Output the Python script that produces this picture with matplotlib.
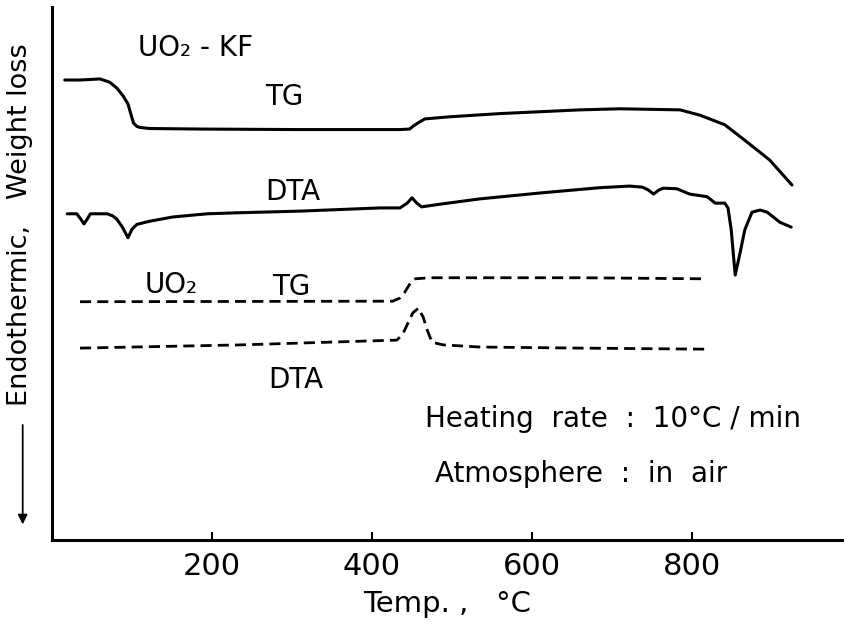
import matplotlib
matplotlib.use("Agg")
import matplotlib.pyplot as plt

plt.rcParams['font.family'] = ['DejaVu Sans']

# UO2-KF, TG (temperature in deg C, signal in arbitrary units)
kf_tg_t = [16, 35, 60, 72, 81, 89, 95, 99, 102, 106, 110, 122, 185, 310, 435, 447,
           452, 457, 466, 497, 560, 660, 710, 785, 810, 841, 866, 897, 925]
kf_tg_y = [86.3, 86.3, 86.5, 85.9, 84.8, 83.3, 81.8, 79.7, 78.2, 77.6, 77.4, 77.2,
           77.1, 77.0, 77.0, 77.1, 77.7, 78.2, 79.0, 79.4, 80.0, 80.7, 80.9, 80.7,
           79.7, 77.9, 75.0, 71.3, 66.6]

# UO2-KF, DTA
kf_dta_t = [19, 31, 36, 40, 44, 48, 69, 76, 81, 88, 95, 100, 106, 122, 151, 194,
            235, 310, 410, 435, 444, 450, 456, 462, 485, 535, 610, 685, 722, 738,
            745, 752, 759, 764, 781, 797, 819, 829, 841, 845, 849, 854, 860, 866,
            875, 885, 894, 910, 924]
kf_dta_y = [61.2, 61.2, 60.2, 59.3, 60.2, 61.2, 61.2, 60.8, 60.2, 58.7, 56.7, 58.3,
            59.2, 59.8, 60.6, 61.2, 61.4, 61.7, 62.3, 62.3, 63.2, 64.2, 63.2, 62.5,
            63.0, 64.0, 65.1, 66.1, 66.4, 66.2, 65.7, 64.9, 65.7, 66.0, 65.9, 64.9,
            64.4, 63.2, 63.2, 62.3, 58.2, 49.7, 53.8, 58.2, 61.5, 61.9, 61.5, 59.6,
            58.7]

# UO2, TG
uo2_tg_t = [35, 410, 426, 435, 441, 448, 454, 472, 660, 816]
uo2_tg_y = [44.7, 44.8, 44.8, 45.4, 46.5, 48.2, 49.0, 49.2, 49.2, 49.0]

# UO2, DTA
uo2_dta_t = [35, 235, 431, 438, 445, 451, 458, 464, 469, 475, 489, 535, 660, 819]
uo2_dta_y = [36.0, 36.6, 37.5, 38.5, 40.7, 42.6, 43.5, 41.8, 39.4, 37.1, 36.6, 36.2,
             36.0, 35.8]

xticks = [200, 400, 600, 800]

fig = plt.figure(figsize=(8.44, 6.3), dpi=100)
ax = fig.add_axes([0.0616, 0.1429, 0.9384, 0.846])

solid = dict(color='black', lw=2.2, solid_capstyle='round', solid_joinstyle='round')
ax.plot(kf_tg_t, kf_tg_y, **solid)
ax.plot(kf_dta_t, kf_dta_y, **solid)
ax.plot(uo2_tg_t, uo2_tg_y, color='black', lw=2.0, dashes=(4, 2.2))
ax.plot(uo2_dta_t, uo2_dta_y, color='black', lw=2.0, dashes=(4, 2.2))

ax.set_xlim(0, 990)
ax.set_ylim(0, 100)
ax.set_xticks(xticks)
ax.set_yticks([])
ax.tick_params(axis='x', direction='in', length=6, width=1.5, labelsize=22, pad=9)
for s in ['top', 'right']:
    ax.spines[s].set_visible(False)
for s in ['left', 'bottom']:
    ax.spines[s].set_linewidth(2.2)

fs = 20
ax.text(107, 90.8, 'UO\u2082 - KF', fontsize=fs, ha='left', va='baseline')
ax.text(266, 81.6, 'TG', fontsize=fs, ha='left', va='baseline')
ax.text(266, 63.8, 'DTA', fontsize=fs, ha='left', va='baseline')
ax.text(116, 46.3, 'UO\u2082', fontsize=fs, ha='left', va='baseline')
ax.text(275, 46.0, 'TG', fontsize=fs, ha='left', va='baseline')
ax.text(270, 28.5, 'DTA', fontsize=fs, ha='left', va='baseline')
ax.text(466, 21.2, 'Heating  rate  :  10\u00b0C / min', fontsize=fs, ha='left', va='baseline')
ax.text(479, 10.9, 'Atmosphere  :  in  air', fontsize=fs, ha='left', va='baseline')

ax.text(0.393, -0.135, 'Temp. ,   \u00b0C', fontsize=21, ha='left', va='baseline',
        transform=ax.transAxes)

ax.text(-0.04, 0.591, 'Endothermic,   Weight loss', fontsize=19.5, rotation=90,
        ha='center', va='center', transform=ax.transAxes)
ax.annotate('', xy=(-0.037, 0.024), xytext=(-0.037, 0.221),
            xycoords='axes fraction', textcoords='axes fraction',
            annotation_clip=False,
            arrowprops=dict(arrowstyle='-|>', lw=1.3, color='black',
                            mutation_scale=14))

fig.savefig('out.png', dpi=100)
